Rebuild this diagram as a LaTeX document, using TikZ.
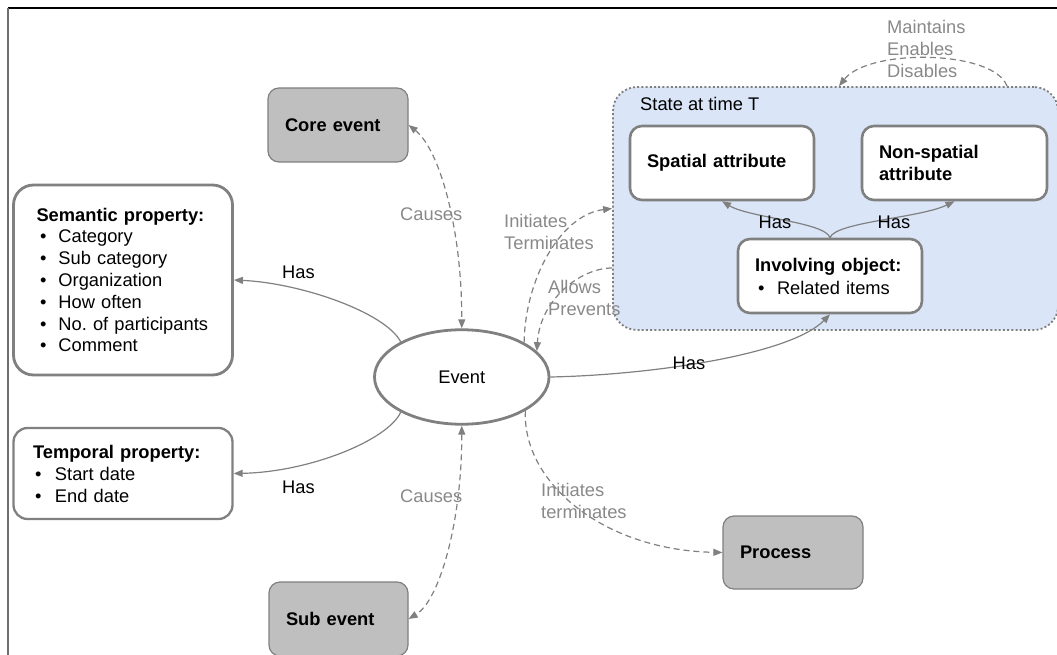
\documentclass[tikz,border=0pt]{standalone}
\usepackage{fontspec}
\setmainfont{Liberation Sans}
\usetikzlibrary{arrows.meta,shapes.geometric,calc}
\definecolor{lgray}{RGB}{128,128,128}
\definecolor{tgray}{RGB}{137,137,137}
\definecolor{boxgray}{RGB}{191,191,191}
\definecolor{stblue}{RGB}{218,230,248}
\definecolor{framegray}{RGB}{110,110,110}
\newcommand{\mybullet}[1][3.5pt]{\makebox[22pt][l]{\hspace{#1}•}}
\frenchspacing
\begin{document}
\begin{tikzpicture}[x=1pt,y=-1pt,
  every node/.style={font=\fontsize{18.3}{22}\selectfont, inner sep=0pt},
  graybox/.style={draw=lgray, line width=1.2pt, fill=boxgray, rounded corners=11pt,
    align=left, inner xsep=17pt, inner ysep=0pt, font=\bfseries\fontsize{18.3}{22}\selectfont},
  attrbox/.style={draw=lgray, line width=2.6pt, fill=white, rounded corners=12pt,
    align=left, inner xsep=17pt, inner ysep=0pt},
  propbox/.style={draw=lgray, fill=white, align=left, inner ysep=0pt},
  endtip/.style={-{Triangle[length=9pt,width=7pt]}},
  bothtip/.style={{Triangle[length=9pt,width=7pt]}-{Triangle[length=9pt,width=7pt]}},
  hasline/.style={draw=lgray, line width=1.2pt},
  dashline/.style={draw=lgray, line width=1.2pt, dash pattern=on 6pt off 4pt},
  graylabel/.style={text=tgray, align=left, anchor=west},
  blacklabel/.style={text=black, align=left}
]
\useasboundingbox (0,0) rectangle (1057,655);
% frame
\coordinate (fA) at (8,8);
\coordinate (fB) at (1057,8);
\coordinate (fC) at (8,655);
\draw[black, line width=1.3pt] (fA) -- (fB);
\draw[framegray, line width=2pt] (fA) -- (fC);

% state container
\node[draw=lgray, line width=1.8pt, dash pattern=on 2pt off 2.2pt, fill=stblue,
  rounded corners=24pt, minimum width=445pt, minimum height=243pt] (st) at (835.5,208.5) {};
\node[anchor=west] (stlabel) at (640,104) {State at time T};

% boxes
\node[propbox, line width=2.8pt, rounded corners=20pt, minimum width=219pt, minimum height=190pt,
  text width=173pt, inner xsep=23pt, font=\fontsize{18.3}{21.8}\selectfont] (sem) at (123,280)
  {\textbf{Semantic property:}\\
   \mybullet Category\\
   \mybullet Sub category\\
   \mybullet Organization\\
   \mybullet How often\\
   \mbox{\mybullet No.\ of participants}\\
   \mybullet Comment};
\node[propbox, line width=2.3pt, rounded corners=14pt, minimum width=219pt, minimum height=91pt,
  text width=180pt, inner xsep=19.5pt] (tem) at (123,473.5)
  {\textbf{Temporal property:}\\
   \mybullet[2pt]Start date\\
   \mybullet[2pt]End date};

\node[graybox, minimum width=140pt, minimum height=74pt, text width=106pt] (core) at (338,125) {Core event};
\node[graybox, minimum width=139pt, minimum height=74pt, text width=105pt] (sub) at (338.5,619) {Sub event};
\node[graybox, minimum width=140pt, minimum height=73pt, text width=106pt] (proc) at (793,552.5) {Process};

\node[attrbox, minimum width=184pt, minimum height=74pt, text width=150pt] (spa) at (722,163) {\textbf{Spatial attribute}};
\node[attrbox, minimum width=185pt, minimum height=74pt, text width=151pt] (nsp) at (954.5,163) {\textbf{Non-spatial}\\\textbf{attribute}};
\node[attrbox, minimum width=184pt, minimum height=74pt, text width=150pt, font=\fontsize{18.3}{23}\selectfont] (inv) at (830,276)
  {\textbf{Involving object:}\\ \mybullet[3pt]Related items};

\node[ellipse, draw=lgray, line width=2.8pt, fill=white, minimum width=174.5pt, minimum height=94.5pt,
  inner sep=0pt] (ev) at (461.75,377) {Event};

% Has connectors (solid)
\draw[hasline, endtip] (ev.150) .. controls (385,312) and (300,283) .. (sem.east);
\node[blacklabel, anchor=west] (hasA) at (282,272) {Has};
\draw[hasline, endtip] (ev.210) .. controls (388,440) and (310,472) .. (tem.east);
\node[blacklabel, anchor=west] (hasB) at (282,487) {Has};
\draw[hasline, endtip] (ev.east) .. controls (650,375) and (790,355) .. (inv.south);
\node[blacklabel] (hasC) at (689,363) {Has};
\draw[hasline, endtip] (inv.north) .. controls (825,222) and (750,218) .. (spa.south);
\node[blacklabel] (hasD) at (775,222) {Has};
\draw[hasline, endtip] (inv.north) .. controls (835,222) and (920,218) .. (nsp.south);
\node[blacklabel] (hasE) at (894,222) {Has};

% dashed connectors
\draw[dashline, bothtip] (core.east) .. controls (440,150) and (462,230) .. (ev.north);
\node[graylabel] (causesA) at (400,214) {Causes};
\draw[dashline, bothtip] (ev.south) .. controls (462,520) and (440,600) .. (sub.east);
\node[graylabel] (causesB) at (400,496) {Causes};

\draw[dashline, endtip] (ev.29) .. controls (525,280) and (560,215) .. (st.west);
\node[graylabel] (initA) at (504,232) {Initiates\\Terminates};

\draw[dashline, endtip] ([yshift=-59.5pt]st.west) .. controls (580,268) and (540,300) .. (ev.19);
\node[graylabel] (allow) at (548,297.5) {Allows\\Prevents};

\draw[dashline, endtip] (ev.-28) .. controls (522,480) and (600,550) .. (proc.west);
\node[graylabel] (initB) at (541,500.5) {Initiates\\terminates};

\draw[dashline, endtip] ([xshift=171.5pt]st.north) .. controls (994,50) and (869,48) .. ([xshift=3.5pt]st.north);
\node[graylabel] (maint) at (887,48.5) {Maintains\\Enables\\Disables};
\end{tikzpicture}
\end{document}
